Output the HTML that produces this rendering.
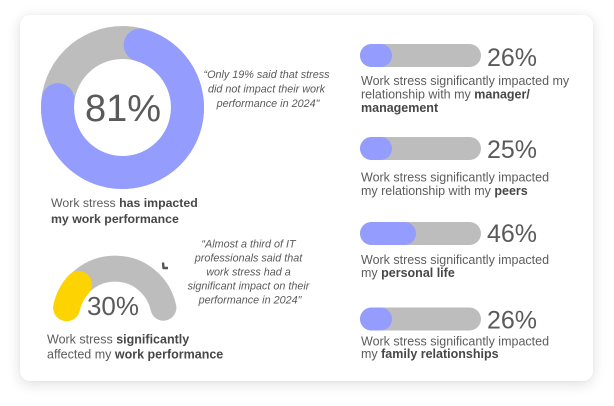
<!DOCTYPE html>
<html>
<head>
<meta charset="utf-8">
<style>
  html,body{margin:0;padding:0;background:#ffffff;}
  body{width:614px;height:406px;position:relative;overflow:hidden;font-family:"Liberation Sans",sans-serif;}
  .card{position:absolute;left:20px;top:15px;width:573px;height:366px;background:#fff;border-radius:10px;
    box-shadow:0 3px 14px rgba(0,0,0,0.13),0 0 3px rgba(0,0,0,0.04);}
  svg{position:absolute;left:0;top:0;}
  text{font-family:"Liberation Sans",sans-serif;}
</style>
</head>
<body>
<div class="card"></div>
<svg width="614" height="406" viewBox="0 0 614 406" xmlns="http://www.w3.org/2000/svg">
  <!-- Donut -->
  <circle cx="122.5" cy="107.5" r="65" fill="none" stroke="#bcbdbc" stroke-width="33"/>
  <path d="M140.2,45 A65,65 0 1 1 58,99.6" fill="none" stroke="#949cfe" stroke-width="33" stroke-linecap="round"/>
  <text x="123" y="121" font-size="38" fill="#5a5a5a" text-anchor="middle">81%</text>

  <text font-size="12.3" fill="#5c5c5c">
    <tspan x="51" y="207">Work stress <tspan font-weight="bold" fill="#474747">has impacted</tspan></tspan>
    <tspan x="51" y="223" font-weight="bold" fill="#474747">my work performance</tspan>
  </text>

  <text font-size="10.8" fill="#5a5a5a" font-style="italic" text-anchor="middle">
    <tspan x="268" y="78">“Only 19% said that stress</tspan>
    <tspan x="268" y="92.5">did not impact their work</tspan>
    <tspan x="268" y="107">performance in 2024"</tspan>
  </text>

  <!-- Gauge -->
  <path d="M66.6,307.7 A49.5,49.5 0 0 1 163.4,307.7" fill="none" stroke="#bcbdbc" stroke-width="26" stroke-linecap="round"/>
  <path d="M66.6,307.7 A49.5,49.5 0 0 1 78.5,284.5" fill="none" stroke="#fdd301" stroke-width="27" stroke-linecap="round"/>
  <path d="M163,262.5 L163.5,268 L168,268" fill="none" stroke="#555" stroke-width="2.4" stroke-linejoin="round"/>
  <text x="113" y="315" font-size="26" fill="#5a5a5a" text-anchor="middle">30%</text>

  <text font-size="12.5" fill="#5c5c5c">
    <tspan x="47" y="343.5">Work stress <tspan font-weight="bold" fill="#474747">significantly</tspan></tspan>
    <tspan x="47" y="358.5">affected my <tspan font-weight="bold" fill="#474747">work performance</tspan></tspan>
  </text>

  <text font-size="10.8" fill="#5a5a5a" font-style="italic" text-anchor="middle">
    <tspan x="250" y="247.5">“Almost a third of IT</tspan>
    <tspan x="250" y="261.5">professionals said that</tspan>
    <tspan x="250" y="275.5">work stress had a</tspan>
    <tspan x="250" y="289.5">significant impact on their</tspan>
    <tspan x="250" y="303.5">performance in 2024"</tspan>
  </text>

  <!-- Bar 1 -->
  <rect x="360" y="44" width="121" height="23" rx="11.5" fill="#bcbdbc"/>
  <rect x="360" y="44" width="32" height="23" rx="11.5" fill="#949cfe"/>
  <text x="487" y="66" font-size="25" fill="#5a5a5a">26%</text>
  <text font-size="12.5" fill="#5c5c5c">
    <tspan x="361" y="85">Work stress significantly impacted my</tspan>
    <tspan x="361" y="98.5">relationship with my <tspan font-weight="bold" fill="#474747">manager/</tspan></tspan>
    <tspan x="361" y="112" font-weight="bold" fill="#474747">management</tspan>
  </text>

  <!-- Bar 2 -->
  <rect x="360" y="137" width="121" height="23" rx="11.5" fill="#bcbdbc"/>
  <rect x="360" y="137" width="32" height="23" rx="11.5" fill="#949cfe"/>
  <text x="487" y="158" font-size="25" fill="#5a5a5a">25%</text>
  <text font-size="12.5" fill="#5c5c5c">
    <tspan x="361" y="181.5">Work stress significantly impacted</tspan>
    <tspan x="361" y="195">my relationship with my <tspan font-weight="bold" fill="#474747">peers</tspan></tspan>
  </text>

  <!-- Bar 3 -->
  <rect x="360" y="222" width="121" height="23" rx="11.5" fill="#bcbdbc"/>
  <rect x="360" y="222" width="56" height="23" rx="11.5" fill="#949cfe"/>
  <text x="487" y="242" font-size="25" fill="#5a5a5a">46%</text>
  <text font-size="12.5" fill="#5c5c5c">
    <tspan x="361" y="264">Work stress significantly impacted</tspan>
    <tspan x="361" y="277">my <tspan font-weight="bold" fill="#474747">personal life</tspan></tspan>
  </text>

  <!-- Bar 4 -->
  <rect x="360" y="307.5" width="121" height="23" rx="11.5" fill="#bcbdbc"/>
  <rect x="360" y="307.5" width="32" height="23" rx="11.5" fill="#949cfe"/>
  <text x="487" y="328.5" font-size="25" fill="#5a5a5a">26%</text>
  <text font-size="12.5" fill="#5c5c5c">
    <tspan x="361" y="345.5">Work stress significantly impacted</tspan>
    <tspan x="361" y="358">my <tspan font-weight="bold" fill="#474747">family relationships</tspan></tspan>
  </text>
</svg>
</body>
</html>
